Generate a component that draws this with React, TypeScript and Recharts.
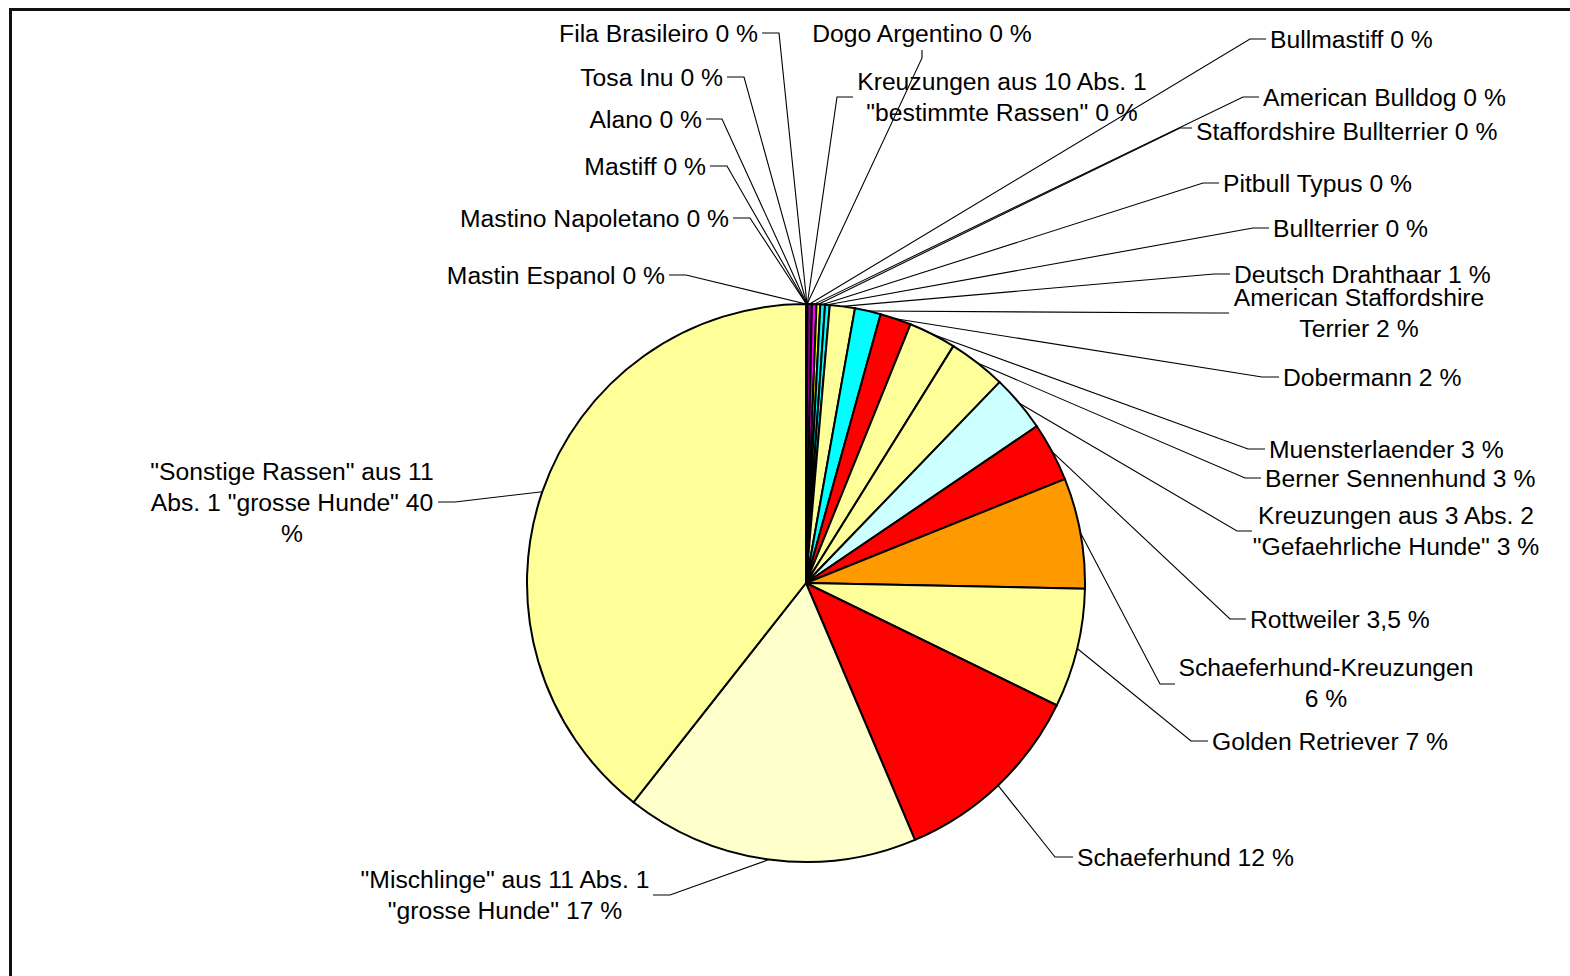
import { PieChart, Pie, Cell } from "recharts";

// slices in clockwise order starting at 12 o'clock
const breeds = [
  "Mastin Espanol",
  "Mastino Napoletano",
  "Mastiff",
  "Alano",
  "Tosa Inu",
  "Fila Brasileiro",
  "Dogo Argentino",
  'Kreuzungen aus 10 Abs. 1 "bestimmte Rassen"',
  "Bullmastiff",
  "American Bulldog",
  "Staffordshire Bullterrier",
  "Pitbull Typus",
  "Bullterrier",
  "Deutsch Drahthaar",
  "American Staffordshire Terrier",
  "Dobermann",
  "Muensterlaender",
  "Berner Sennenhund",
  'Kreuzungen aus 3 Abs. 2 "Gefaehrliche Hunde"',
  "Rottweiler",
  "Schaeferhund-Kreuzungen",
  "Golden Retriever",
  "Schaeferhund",
  '"Mischlinge" aus 11 Abs. 1 "grosse Hunde"',
  '"Sonstige Rassen" aus 11 Abs. 1 "grosse Hunde"',
];

const shares = [
  0.01, 0.01, 0.01, 0.01, 0.01, 0.01, 0.01, 0.01, 0.26, 0.26, 0.22, 0.27,
  0.27, 1.45, 1.5, 1.8, 2.75, 3.35, 3.3, 3.42, 6.4, 6.9, 11.4, 17.0, 39.4,
];

const shownPct = [
  "0 %", "0 %", "0 %", "0 %", "0 %", "0 %", "0 %", "0 %", "0 %", "0 %",
  "0 %", "0 %", "0 %", "1 %", "2 %", "2 %", "3 %", "3 %", "3 %", "3,5 %",
  "6 %", "7 %", "12 %", "17 %", "40 %",
];

const colors = [
  "#333399", "#993366", "#008080", "#808000", "#000080", "#800000",
  "#339966", "#666699", "#800080", "#FF00FF", "#FFFF00", "#00FFFF",
  "#00FFFF", "#FFFF99", "#00FFFF", "#FF0000", "#FFFF99", "#FFFF99",
  "#CCFFFF", "#FF0000", "#FF9900", "#FFFF99", "#FF0000", "#FFFFCC",
  "#FFFF99",
];

const data = breeds.map((name, i) => ({
  name,
  value: shares[i],
  text: `${name} ${shownPct[i]}`,
}));

// label placement (Excel-like), words per line where a label wraps
type Spot = {
  tx: number;
  ty: number;
  anchor: "start" | "end" | "middle";
  end: [number, number];
  bend: [number, number];
  wrap?: number[];
};

const spots: Spot[] = [
  { tx: 665, ty: 275, anchor: "end", end: [669, 275], bend: [686, 275] },
  { tx: 729, ty: 218, anchor: "end", end: [733, 218], bend: [750, 218] },
  { tx: 706, ty: 166, anchor: "end", end: [710, 166], bend: [727, 166] },
  { tx: 702, ty: 119, anchor: "end", end: [706, 119], bend: [722, 119] },
  { tx: 723, ty: 77, anchor: "end", end: [727, 77], bend: [744, 77] },
  { tx: 758, ty: 33, anchor: "end", end: [762, 33], bend: [779, 33] },
  { tx: 922, ty: 33, anchor: "middle", end: [922, 50], bend: [922, 58] },
  { tx: 1002, ty: 97, anchor: "middle", end: [853, 97], bend: [837, 97], wrap: [5] },
  { tx: 1270, ty: 39, anchor: "start", end: [1266, 39], bend: [1250, 39] },
  { tx: 1263, ty: 97, anchor: "start", end: [1259, 97], bend: [1243, 97] },
  { tx: 1196, ty: 131, anchor: "start", end: [1192, 128], bend: [1180, 128] },
  { tx: 1223, ty: 183, anchor: "start", end: [1219, 183], bend: [1203, 183] },
  { tx: 1273, ty: 228, anchor: "start", end: [1269, 228], bend: [1253, 228] },
  { tx: 1234, ty: 274, anchor: "start", end: [1230, 274], bend: [1214, 274] },
  { tx: 1359, ty: 313, anchor: "middle", end: [1229, 313], bend: [1212, 313], wrap: [2] },
  { tx: 1283, ty: 377, anchor: "start", end: [1279, 377], bend: [1262, 377] },
  { tx: 1269, ty: 449, anchor: "start", end: [1265, 449], bend: [1248, 449] },
  { tx: 1265, ty: 478, anchor: "start", end: [1261, 478], bend: [1245, 478] },
  { tx: 1396, ty: 531, anchor: "middle", end: [1252, 531], bend: [1237, 531], wrap: [5] },
  { tx: 1250, ty: 619, anchor: "start", end: [1246, 619], bend: [1230, 619] },
  { tx: 1326, ty: 683, anchor: "middle", end: [1175, 684], bend: [1160, 684], wrap: [1] },
  { tx: 1212, ty: 741, anchor: "start", end: [1208, 741], bend: [1191, 741] },
  { tx: 1077, ty: 857, anchor: "start", end: [1073, 857], bend: [1055, 857] },
  { tx: 505, ty: 895, anchor: "middle", end: [653, 895], bend: [670, 895], wrap: [5] },
  { tx: 292, ty: 502, anchor: "middle", end: [438, 502], bend: [455, 502], wrap: [4, 9] },
];

const RADIAN = Math.PI / 180;
const LINE_H = 31;

const splitLines = (text: string, wrap?: number[]) => {
  if (!wrap) return [text];
  const words = text.split(" ");
  const cuts = [0, ...wrap, words.length];
  const out: string[] = [];
  for (let i = 0; i < cuts.length - 1; i++) {
    out.push(words.slice(cuts[i], cuts[i + 1]).join(" "));
  }
  return out;
};

const renderLabel = (props: any) => {
  const { cx, cy, midAngle, outerRadius, index } = props;
  const spot = spots[index];
  const sx = cx + outerRadius * Math.cos(-midAngle * RADIAN);
  const sy = cy + outerRadius * Math.sin(-midAngle * RADIAN);
  const lines = splitLines(data[index].text, spot.wrap);
  const top = spot.ty - ((lines.length - 1) * LINE_H) / 2;
  return (
    <g key={`lbl-${index}`}>
      <polyline
        points={`${sx},${sy} ${spot.bend[0]},${spot.bend[1]} ${spot.end[0]},${spot.end[1]}`}
        fill="none"
        stroke="#000"
        strokeWidth={1.1}
      />
      <text
        textAnchor={spot.anchor}
        fontFamily="'Liberation Sans', Arial, sans-serif"
        fontSize={24.7}
        fill="#000"
      >
        {lines.map((ln, i) => (
          <tspan key={i} x={spot.tx} y={top + i * LINE_H + 8.5}>
            {ln}
          </tspan>
        ))}
      </text>
    </g>
  );
};

export default function App() {
  return (
    <div
      style={{
        position: "absolute",
        left: 0,
        top: 0,
        width: 1570,
        height: 976,
        background: "#fff",
        overflow: "hidden",
      }}
    >
      <div
        style={{
          position: "absolute",
          left: 9,
          top: 8,
          width: 1700,
          height: 1100,
          borderLeft: "3px solid #111",
          borderTop: "3px solid #111",
        }}
      />
      <div style={{ position: "absolute", left: 0, top: 0 }}>
        <PieChart
          width={1570}
          height={976}
          margin={{ top: 0, right: 0, bottom: 0, left: 0 }}
        >
          <Pie
            data={data}
            dataKey="value"
            nameKey="name"
            cx={806}
            cy={583}
            outerRadius={279}
            startAngle={90}
            endAngle={-270}
            stroke="#000"
            strokeWidth={2}
            labelLine={false}
            label={renderLabel}
            isAnimationActive={false}
          >
            {data.map((d, i) => (
              <Cell key={`cell-${i}`} fill={colors[i]} stroke="#000" strokeWidth={2} />
            ))}
          </Pie>
        </PieChart>
      </div>
    </div>
  );
}
